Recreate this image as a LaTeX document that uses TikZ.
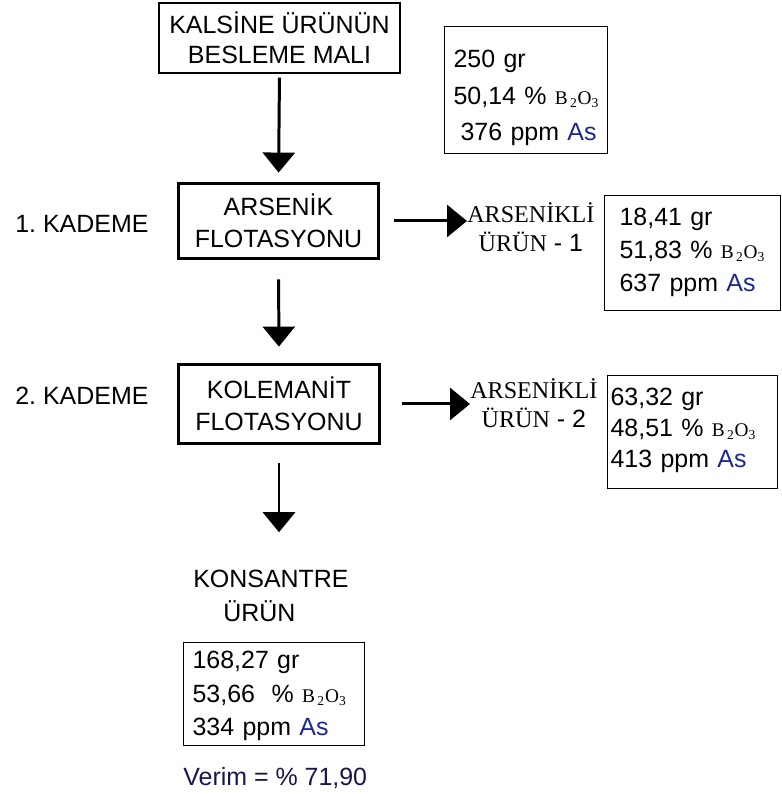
\documentclass[tikz,border=0pt]{standalone}
\usepackage{fontspec}
\setmainfont{Liberation Sans}
\newfontfamily\timesfont{Liberation Serif}
\usepackage{xcolor}
\usetikzlibrary{arrows.meta}

\definecolor{asnavy}{RGB}{30,40,140}
\definecolor{verimnavy}{RGB}{22,22,75}
\newcommand{\bxo}{{\timesfont\fontsize{11}{12}\selectfont B\kern0.12em\textsubscript{2}O\textsubscript{3}}}
\newcommand{\asn}{\textcolor{asnavy}{As}}
\newcommand{\trm}[1]{{\timesfont\fontsize{13.7}{16.5}\selectfont #1}}

\begin{document}
\begin{tikzpicture}[x=1cm,y=1cm,
  feedbox/.style={draw=black,line width=0.7pt,minimum width=4.82cm,minimum height=1.4cm,
                  inner sep=0pt,align=center,font=\fontsize{14.2}{17.1}\selectfont},
  stage/.style={draw=black,line width=1.9pt,minimum width=3.99cm,minimum height=1.49cm,
                inner sep=0pt,align=center,font=\fontsize{14.2}{18.2}\selectfont},
  info/.style={draw=black,line width=0.7pt,anchor=north west,inner ysep=0pt,align=left},
  lbl/.style={inner sep=0pt,anchor=base west,font=\fontsize{14.2}{17}\selectfont},
  outlbl/.style={inner sep=0pt,anchor=base west,align=center,font=\fontsize{14.2}{16.5}\selectfont},
  arr/.style={-{Triangle[length=4mm,width=6.4mm]},line width=1.7pt,draw=black}
]
\useasboundingbox (0,0) rectangle (15.62,15.88);

% feed and the two flotation stages
\node[feedbox] (feed) at (5.59,15.12) {KALSİNE ÜRÜNÜN\\BESLEME MALI};
\node[stage] (arsflot) at (5.57,11.46) {ARSENİK\\FLOTASYONU};
\node[stage,minimum width=4.01cm,minimum height=1.57cm] (kolflot) at (5.58,7.80) {KOLEMANİT\\FLOTASYONU};

\node[lbl] (kad1) at (0.30,11.22) {1.\ KADEME};
\node[lbl] (kad2) at (0.30,7.78) {2.\ KADEME};

% side products (base = last line)
\node[outlbl] (ars1) at (9.34,10.84) {\trm{ARSENİKLİ}\\\trm{ÜRÜN} - 1};
\node[outlbl] (ars2) at (9.40,7.32) {\trm{ARSENİKLİ}\\\trm{ÜRÜN} - 2};

% concentrate
\node[lbl,align=left,font=\fontsize{14.2}{19.9}\selectfont] (conc) at (3.86,3.44)
  {KONSANTRE\\\hspace*{0.6cm}ÜRÜN};
\node[lbl,text=verimnavy] (verim) at (3.66,0.18) {Verim = \% 71,90};

% mass and grade boxes
\node[info,text width=2.9cm,inner xsep=0.18cm,font=\fontsize{14.2}{20.8}\selectfont] (feeddata) at (8.88,15.36)
  {\rule{0pt}{0.82cm}250 gr\\50,14~\%~\bxo\\\hspace*{0.14cm}376 ppm \asn\rule[-0.26cm]{0pt}{0.26cm}};
\node[info,text width=2.92cm,inner xsep=0.3cm,font=\fontsize{14.2}{18.8}\selectfont] (ars1data) at (12.08,11.98)
  {\rule{0pt}{0.6cm}18,41 gr\\51,83~\%~\bxo\\637 ppm \asn\rule[-0.38cm]{0pt}{0.38cm}};
\node[info,text width=3.28cm,inner xsep=0.06cm,font=\fontsize{14.2}{17.6}\selectfont] (ars2data) at (12.14,8.38)
  {\rule{0pt}{0.6cm}63,32 gr\\48,51~\%~\bxo\\413 ppm \asn\rule[-0.42cm]{0pt}{0.42cm}};
\node[info,text width=3.26cm,inner xsep=0.18cm,font=\fontsize{14.2}{19.1}\selectfont] (concdata) at (3.66,3.04)
  {\rule{0pt}{0.52cm}168,27 gr\\53,66~~\%~\bxo\\334 ppm \asn\rule[-0.2cm]{0pt}{0.2cm}};

\draw[arr,shorten <=0.08cm,shorten >=0.19cm] (feed.south) -- (arsflot.north);
\draw[arr,shorten <=0.39cm,shorten >=0.33cm] (arsflot.south) -- (kolflot.north);
\draw[arr,shorten <=0.37cm,shorten >=0.74cm] (kolflot.south) -- (kolflot.south |- conc.north);
\draw[arr,shorten <=0.29cm] (arsflot.east) -- (ars1.west |- arsflot.east);
\draw[arr,shorten <=0.43cm] (kolflot.east) -- (ars2.west |- kolflot.east);
\end{tikzpicture}
\end{document}
